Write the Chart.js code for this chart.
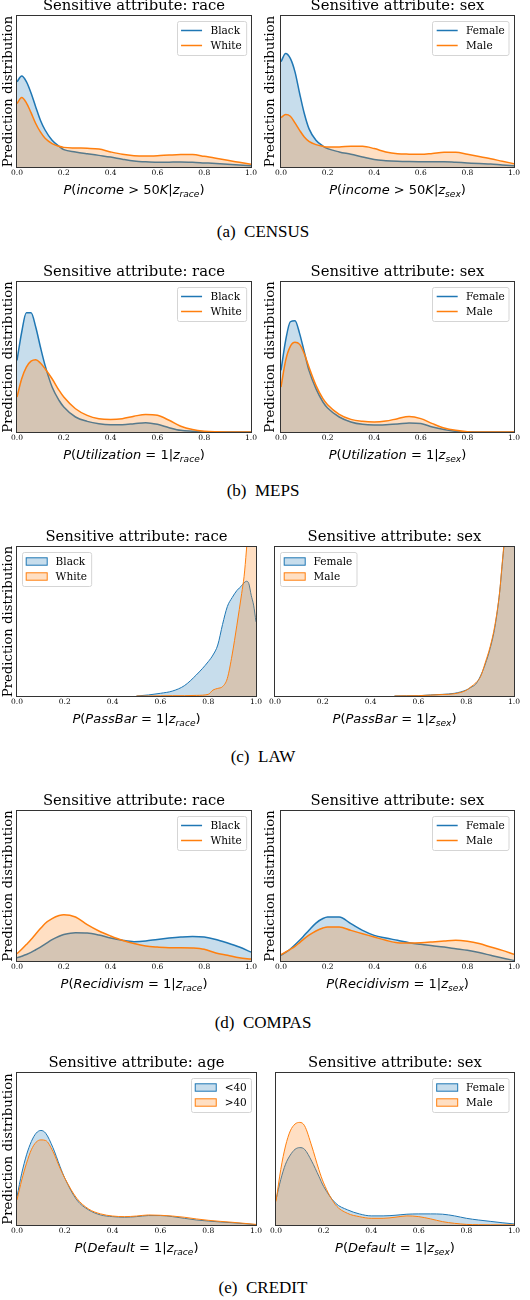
<!DOCTYPE html>
<html>
<head>
<meta charset="utf-8">
<script src="https://cdn.jsdelivr.net/npm/chart.js@4.4.0/dist/chart.umd.min.js"></script>
<style>
  body { margin: 0; background: #fff; width: 530px; height: 1300px; position: relative; overflow: hidden; }
  canvas { position: absolute; }
  .cap { position: absolute; left: 0; width: 526px; text-align: center; font-family: 'Liberation Serif', serif; font-size: 17px; line-height: 20px; color: #000; }
</style>
</head>
<body>
<div class="cap" style="top:222px">(a)&nbsp; CENSUS</div>
<div class="cap" style="top:481px">(b)&nbsp; MEPS</div>
<div class="cap" style="top:747px">(c)&nbsp; LAW</div>
<div class="cap" style="top:1013px">(d)&nbsp; COMPAS</div>
<div class="cap" style="top:1278px">(e)&nbsp; CREDIT</div>
<script>
// tick labels shared by every panel
const xTicks = ['0.0', '0.2', '0.4', '0.6', '0.8', '1.0'];

const grid    = [0, 0.02, 0.04, 0.06, 0.08, 0.1, 0.12, 0.15, 0.18, 0.2, 0.25, 0.3, 0.35, 0.4, 0.45, 0.5, 0.55, 0.6, 0.65, 0.7, 0.75, 0.8, 0.85, 0.9, 0.95, 1.0];
const lawGrid = [0.5, 0.55, 0.6, 0.65, 0.7, 0.75, 0.8, 0.82, 0.84, 0.86, 0.88, 0.9, 0.92, 0.94, 0.95, 0.96, 0.97, 0.98, 0.99, 1.0];

// (a) CENSUS
const censusBlack  = [0.564, 0.602, 0.565, 0.49, 0.398, 0.31, 0.245, 0.177, 0.137, 0.115, 0.10, 0.088, 0.077, 0.066, 0.052, 0.04, 0.034, 0.031, 0.032, 0.033, 0.031, 0.027, 0.023, 0.018, 0.013, 0.009];
const censusWhite  = [0.42, 0.46, 0.425, 0.36, 0.288, 0.232, 0.19, 0.155, 0.137, 0.13, 0.126, 0.124, 0.119, 0.10, 0.084, 0.075, 0.073, 0.075, 0.079, 0.082, 0.082, 0.071, 0.058, 0.044, 0.031, 0.018];
const censusFemale = [0.697, 0.752, 0.719, 0.63, 0.487, 0.354, 0.254, 0.177, 0.139, 0.122, 0.10, 0.084, 0.066, 0.049, 0.042, 0.038, 0.036, 0.035, 0.035, 0.035, 0.031, 0.027, 0.023, 0.02, 0.014, 0.009];
const censusMale   = [0.327, 0.347, 0.336, 0.292, 0.243, 0.199, 0.17, 0.148, 0.137, 0.133, 0.133, 0.137, 0.137, 0.122, 0.10, 0.088, 0.085, 0.084, 0.09, 0.097, 0.097, 0.084, 0.07, 0.055, 0.038, 0.022];

// (b) MEPS
const mepsBlack  = [0.477, 0.665, 0.795, 0.795, 0.70, 0.567, 0.444, 0.30, 0.21, 0.167, 0.10, 0.071, 0.055, 0.049, 0.049, 0.055, 0.062, 0.051, 0.029, 0.011, 0.005, 0.001, 0, 0, 0, 0];
const mepsWhite  = [0.233, 0.355, 0.433, 0.472, 0.482, 0.46, 0.422, 0.355, 0.277, 0.233, 0.155, 0.111, 0.089, 0.084, 0.089, 0.105, 0.117, 0.111, 0.078, 0.038, 0.016, 0.005, 0.001, 0, 0, 0];
const mepsFemale = [0.411, 0.611, 0.735, 0.742, 0.656, 0.533, 0.411, 0.289, 0.20, 0.16, 0.10, 0.067, 0.051, 0.047, 0.049, 0.053, 0.06, 0.056, 0.033, 0.016, 0.004, 0.001, 0, 0, 0, 0];
const mepsMale   = [0.30, 0.478, 0.571, 0.598, 0.584, 0.522, 0.433, 0.311, 0.222, 0.182, 0.118, 0.084, 0.071, 0.067, 0.073, 0.089, 0.103, 0.089, 0.056, 0.027, 0.011, 0.002, 0, 0, 0, 0];

// (c) LAW
const lawBlack  = [0, 0.007, 0.018, 0.033, 0.069, 0.141, 0.23, 0.275, 0.342, 0.48, 0.60, 0.66, 0.708, 0.74, 0.76, 0.77, 0.754, 0.676, 0.61, 0.498];
const lawWhite  = [0, 0, 0.001, 0.002, 0.002, 0.004, 0.011, 0.04, 0.051, 0.063, 0.118, 0.275, 0.475, 0.688, 0.80, 0.98, 1.2, 1.35, 1.4, 1.4];
const lawFemale = [0, 0.001, 0.002, 0.007, 0.011, 0.018, 0.04, 0.058, 0.08, 0.135, 0.215, 0.318, 0.462, 0.696, 0.87, 1.05, 1.3, 1.5, 1.6, 1.6];
const lawMale   = [0, 0.001, 0.002, 0.006, 0.01, 0.015, 0.038, 0.062, 0.088, 0.13, 0.225, 0.33, 0.475, 0.70, 0.88, 1.06, 1.3, 1.5, 1.6, 1.6];

// (d) COMPAS
const compasBlack  = [0.022, 0.032, 0.043, 0.057, 0.075, 0.093, 0.112, 0.142, 0.165, 0.176, 0.189, 0.187, 0.173, 0.153, 0.138, 0.129, 0.133, 0.144, 0.153, 0.16, 0.164, 0.16, 0.144, 0.12, 0.093, 0.06];
const compasWhite  = [0.049, 0.078, 0.11, 0.143, 0.18, 0.216, 0.25, 0.282, 0.303, 0.309, 0.293, 0.242, 0.20, 0.167, 0.138, 0.116, 0.10, 0.093, 0.089, 0.089, 0.087, 0.078, 0.053, 0.038, 0.022, 0.013];
const compasFemale = [0.038, 0.058, 0.08, 0.108, 0.138, 0.171, 0.205, 0.253, 0.283, 0.293, 0.293, 0.249, 0.204, 0.171, 0.153, 0.138, 0.122, 0.111, 0.102, 0.093, 0.082, 0.071, 0.056, 0.038, 0.02, 0.004];
const compasMale   = [0.042, 0.06, 0.078, 0.098, 0.123, 0.149, 0.172, 0.20, 0.22, 0.227, 0.227, 0.204, 0.182, 0.16, 0.138, 0.122, 0.12, 0.122, 0.127, 0.133, 0.138, 0.131, 0.116, 0.093, 0.071, 0.044];

// (e) CREDIT
const creditUnder40 = [0.187, 0.341, 0.462, 0.549, 0.604, 0.622, 0.604, 0.51, 0.385, 0.308, 0.165, 0.099, 0.066, 0.055, 0.051, 0.055, 0.062, 0.062, 0.055, 0.044, 0.033, 0.026, 0.02, 0.015, 0.009, 0.002];
const creditOver40  = [0.165, 0.297, 0.407, 0.495, 0.545, 0.56, 0.556, 0.485, 0.374, 0.308, 0.176, 0.105, 0.073, 0.059, 0.055, 0.059, 0.066, 0.064, 0.059, 0.051, 0.04, 0.031, 0.024, 0.018, 0.011, 0.004];
const creditFemale  = [0.166, 0.299, 0.40, 0.46, 0.498, 0.509, 0.498, 0.42, 0.321, 0.254, 0.144, 0.10, 0.073, 0.06, 0.06, 0.064, 0.071, 0.073, 0.073, 0.071, 0.06, 0.044, 0.033, 0.024, 0.015, 0.007];
const creditMale    = [0.155, 0.365, 0.52, 0.619, 0.664, 0.675, 0.653, 0.52, 0.365, 0.277, 0.133, 0.077, 0.055, 0.044, 0.044, 0.051, 0.06, 0.055, 0.04, 0.022, 0.011, 0.004, 0.002, 0.001, 0.001, 0.001];

const BLUE = '#1f77b4', ORANGE = '#ff7f0e';
const BLUE_FILL = 'rgba(31,119,180,0.25)', ORANGE_FILL = 'rgba(255,127,14,0.25)';
const SERIF = "'DejaVu Serif', serif";

const xlab = (what, z) => [['P', 'i'], ['(', 'n'], [what, 'i'], [' = ', 'n'], ['1', 'n'], ['|', 'n'], ['z', 'i'], [z, 's'], [')', 'n']];
const censusLab = z => [['P', 'i'], ['(', 'n'], ['income', 'i'], [' > ', 'n'], ['50', 'n'], ['K', 'i'], ['|', 'n'], ['z', 'i'], [z, 's'], [')', 'n']];

// plot boxes are page coordinates of the axes frame
const panels = [
  { title: 'Sensitive attribute: race', xs: grid, a: ['Black', censusBlack], b: ['White', censusWhite], kind: 'line', corner: 'ur', lab: censusLab('race'), col: 0, box: [17, 16, 251, 167], yl: true, lw: 1.5 },
  { title: 'Sensitive attribute: sex', xs: grid, a: ['Female', censusFemale], b: ['Male', censusMale], kind: 'line', corner: 'ur', lab: censusLab('sex'), col: 1, box: [281, 16, 514, 167], yl: true, lw: 1.5 },
  { title: 'Sensitive attribute: race', xs: grid, a: ['Black', mepsBlack], b: ['White', mepsWhite], kind: 'line', corner: 'ur', lab: xlab('Utilization', 'race'), col: 0, box: [17, 282, 251, 432], yl: true, lw: 1.5 },
  { title: 'Sensitive attribute: sex', xs: grid, a: ['Female', mepsFemale], b: ['Male', mepsMale], kind: 'line', corner: 'ur', lab: xlab('Utilization', 'sex'), col: 1, box: [281, 282, 514, 432], yl: true, lw: 1.5 },
  { title: 'Sensitive attribute: race', xs: lawGrid, a: ['Black', lawBlack], b: ['White', lawWhite], kind: 'patch', corner: 'ul', lab: xlab('PassBar', 'race'), col: 0, box: [17, 547, 256, 696], yl: true, lw: 1 },
  { title: 'Sensitive attribute: sex', xs: lawGrid, a: ['Female', lawFemale], b: ['Male', lawMale], kind: 'patch', corner: 'ul', lab: xlab('PassBar', 'sex'), col: 1, box: [275, 547, 514, 696], yl: false, lw: 1 },
  { title: 'Sensitive attribute: race', xs: grid, a: ['Black', compasBlack], b: ['White', compasWhite], kind: 'line', corner: 'ur', lab: xlab('Recidivism', 'race'), col: 0, box: [17, 811, 251, 961], yl: true, lw: 1.5 },
  { title: 'Sensitive attribute: sex', xs: grid, a: ['Female', compasFemale], b: ['Male', compasMale], kind: 'line', corner: 'ur', lab: xlab('Recidivism', 'sex'), col: 1, box: [281, 811, 514, 961], yl: true, lw: 1.5 },
  { title: 'Sensitive attribute: age', xs: grid, a: ['<40', creditUnder40], b: ['>40', creditOver40], kind: 'patch', corner: 'ur', lab: xlab('Default', 'race'), col: 0, box: [17, 1073, 256, 1225], yl: true, lw: 1 },
  { title: 'Sensitive attribute: sex', xs: grid, a: ['Female', creditFemale], b: ['Male', creditMale], kind: 'patch', corner: 'ur', lab: xlab('Default', 'sex'), col: 1, box: [276, 1073, 514, 1225], yl: false, lw: 1 }
];

const framePlugin = {
  id: 'frame',
  afterDatasetsDraw(chart) {
    const { ctx, chartArea: a } = chart;
    ctx.save();
    ctx.strokeStyle = '#333';
    ctx.lineWidth = 1;
    ctx.strokeRect(Math.round(a.left) - 0.5, Math.round(a.top) - 0.5, Math.round(a.width) + 1, Math.round(a.height) + 1);
    ctx.restore();
  }
};

const legendPlugin = {
  id: 'boxLegend',
  afterDraw(chart, args, opts) {
    const { ctx, chartArea: a } = chart;
    const items = chart.data.datasets.map(d => ({ label: d.label, edge: d.borderColor, fill: d.backgroundColor }));
    ctx.save();
    ctx.font = `10.5px ${SERIF}`;
    const tw = Math.max(...items.map(it => ctx.measureText(it.label).width));
    const w = 4.2 + 21 + 8.4 + tw + 4.2, h = 34;
    const x = opts.corner === 'ul' ? a.left + 5 : a.right - 5 - w;
    const y = a.top + 5;
    ctx.beginPath();
    ctx.roundRect(Math.round(x) + 0.5, Math.round(y) + 0.5, w, h, 2);
    ctx.fillStyle = 'rgba(255,255,255,0.8)';
    ctx.fill();
    ctx.strokeStyle = '#d5d5d5';
    ctx.lineWidth = 1;
    ctx.stroke();
    items.forEach((it, i) => {
      const cy = y + 9.5 + i * 15;
      const hx = x + 4.2;
      if (opts.kind === 'line') {
        ctx.strokeStyle = it.edge;
        ctx.lineWidth = 1.5;
        ctx.beginPath();
        ctx.moveTo(hx, cy);
        ctx.lineTo(hx + 21, cy);
        ctx.stroke();
      } else {
        ctx.fillStyle = it.fill;
        ctx.fillRect(hx, cy - 3.7, 21, 7.4);
        ctx.strokeStyle = it.edge;
        ctx.lineWidth = 1;
        ctx.strokeRect(hx, cy - 3.7, 21, 7.4);
      }
      ctx.fillStyle = '#000';
      ctx.textBaseline = 'middle';
      ctx.fillText(it.label, hx + 29.4, cy + 0.5);
    });
    ctx.restore();
  }
};

// x axis label written like matplotlib mathtext: italic symbols, upright digits, subscript
const mathLabel = {
  id: 'mathLabel',
  afterDraw(chart, args, opts) {
    const { ctx, chartArea: a } = chart;
    const size = 13;
    const fontOf = k => k === 'n' ? `${size}px 'DejaVu Sans'` : k === 'i' ? `italic ${size}px 'DejaVu Sans'` : `italic ${size * 0.7}px 'DejaVu Sans'`;
    ctx.save();
    let total = 0;
    const widths = opts.parts.map(([t, k]) => { ctx.font = fontOf(k); const w = ctx.measureText(t).width; total += w; return w; });
    let x = (a.left + a.right) / 2 - total / 2;
    const base = a.bottom + 27;
    ctx.fillStyle = '#000';
    ctx.textBaseline = 'alphabetic';
    opts.parts.forEach(([t, k], i) => {
      ctx.font = fontOf(k);
      ctx.fillText(t, x, k === 's' ? base + 3 : base);
      x += widths[i];
    });
    ctx.restore();
  }
};

panels.forEach(p => {
  const [l, t, r, b] = p.box;
  const x0 = p.col === 0 ? 0 : 262;
  const TOP = 20, BOTTOM = 32, RIGHT = 9;
  const canvas = document.createElement('canvas');
  canvas.width = r - x0 + RIGHT;
  canvas.height = b - t + TOP + BOTTOM;
  canvas.style.left = x0 + 'px';
  canvas.style.top = (t - TOP) + 'px';
  document.body.appendChild(canvas);

  const pts = vals => p.xs.map((x, i) => ({ x, y: vals[i] }));

  new Chart(canvas, {
    type: 'line',
    data: {
      datasets: [
        { label: p.a[0], data: pts(p.a[1]), borderColor: BLUE, backgroundColor: BLUE_FILL, order: 1 },
        { label: p.b[0], data: pts(p.b[1]), borderColor: ORANGE, backgroundColor: ORANGE_FILL, order: 0 }
      ]
    },
    options: {
      responsive: false,
      animation: false,
      events: [],
      layout: { padding: { left: 0, right: RIGHT, top: 0, bottom: 0 } },
      elements: {
        point: { radius: 0 },
        line: { borderWidth: p.lw, fill: 'origin', cubicInterpolationMode: 'monotone' }
      },
      scales: {
        x: {
          type: 'linear', min: 0, max: 1,
          grid: { display: false, drawTicks: false },
          border: { display: false },
          afterBuildTicks: s => { s.ticks = xTicks.map(v => ({ value: +v })); },
          ticks: { padding: 2, autoSkip: false, maxRotation: 0, color: '#000', font: { family: SERIF, size: 7.5 }, callback: (v, i) => xTicks[i] },
          afterFit: s => { s.height = BOTTOM; }
        },
        y: {
          min: 0, max: 1,
          grid: { display: false, drawTicks: false },
          border: { display: false },
          ticks: { display: false },
          title: { display: p.yl, text: 'Prediction distribution', color: '#000', font: { family: SERIF, size: 13.2 }, padding: { top: 1, bottom: 0 } },
          afterFit: s => { s.width = l - x0; }
        }
      },
      plugins: {
        legend: { display: false },
        tooltip: { enabled: false },
        title: { display: true, text: p.title, fullSize: false, color: '#000', font: { family: SERIF, size: 14.8, weight: 'normal', lineHeight: '19px' }, padding: { top: 1, bottom: 0 } },
        boxLegend: { corner: p.corner, kind: p.kind },
        mathLabel: { parts: p.lab }
      }
    },
    plugins: [framePlugin, legendPlugin, mathLabel]
  });
});
</script>
</body>
</html>
